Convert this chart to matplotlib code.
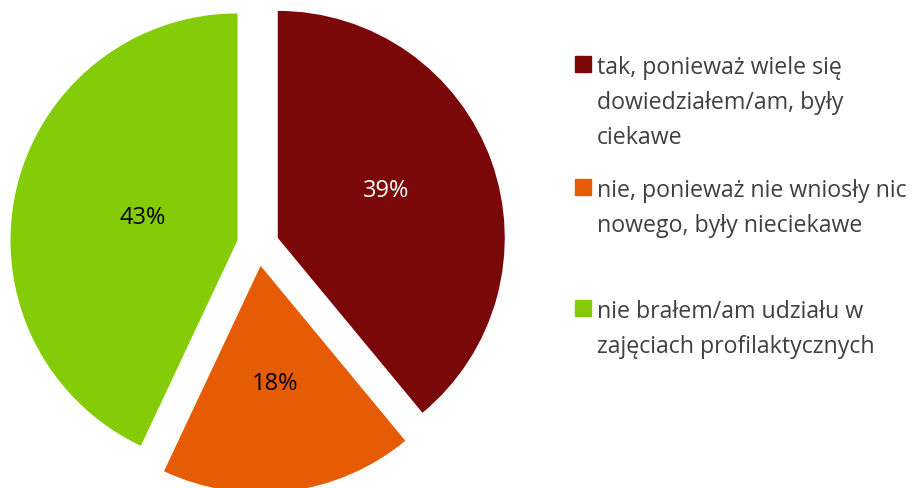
import numpy as np
import matplotlib.pyplot as plt
from matplotlib.patches import Rectangle

plt.rcParams['font.family'] = ['Open Sans', 'DejaVu Sans']

labels = ['tak, ponieważ wiele się\ndowiedziałem/am, były\nciekawe',
          'nie, ponieważ nie wniosły nic\nnowego, były nieciekawe',
          'nie brałem/am udziału w\nzajęciach profilaktycznych']
values = [39, 18, 43]
colors = ['#7A0808', '#E65C04', '#84CC08']
pct_colors = ['white', 'black', 'black']

W, H = 922, 489
fig = plt.figure(figsize=(W/100, H/100), dpi=100)
ax = fig.add_axes([0, 0, 1, 1])

r = 227
wedges, texts, autotexts = ax.pie(values, colors=colors, startangle=90, counterclock=False,
                                  radius=r, center=(258, H-246), explode=[21, 21, 21],
                                  autopct='%d%%', pctdistance=0.52,
                                  textprops={'fontsize': 17})
for t, c in zip(autotexts, pct_colors):
    t.set_color(c)
# tweak label spots a little
x, y = autotexts[0].get_position()
autotexts[0].set_position((x - 3, y + 8))
x, y = autotexts[2].get_position()
autotexts[2].set_position((x + 20, y - 2))

ax.set_xlim(0, W)
ax.set_ylim(0, H)
ax.set_aspect('auto')
ax.axis('off')

# legend drawn by hand (first-line baseline per entry, 35px per line)
leg_y = [74, 197, 318]
line_h = 35
for lab, col, yy in zip(labels, colors, leg_y):
    n = lab.count('\n')
    ax.add_patch(Rectangle((575, H-yy+1), 16, 16, color=col))
    # baseline alignment uses the last line
    ax.text(597, H-yy-n*line_h, lab, fontsize=16.7, color='#404040', va='baseline',
            linespacing=1.62)

fig.savefig('out.png', dpi=100)
